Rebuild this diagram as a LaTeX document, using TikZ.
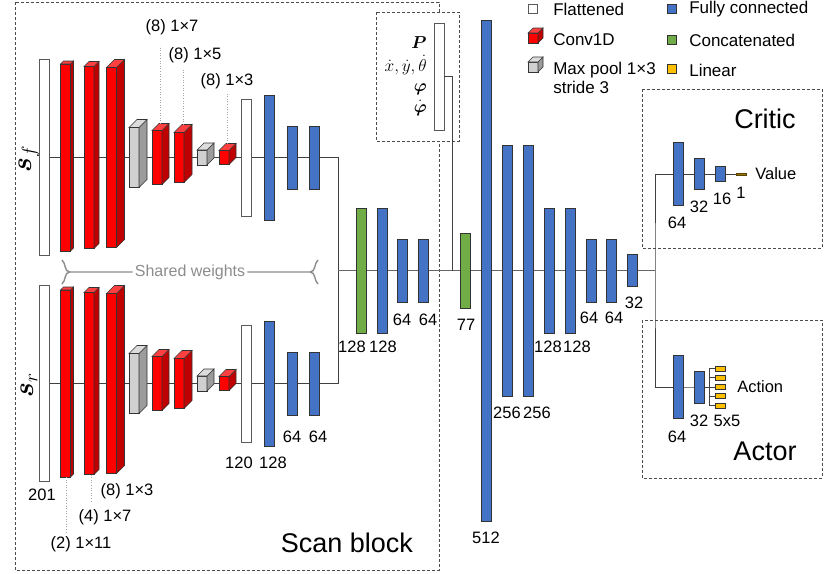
\documentclass[tikz,border=0pt]{standalone}
\usepackage{amsmath}
\usepackage{graphicx}
\usepackage{fontspec}
\setmainfont{Liberation Sans}
\usepackage{tikz}
\usetikzlibrary{backgrounds}

\definecolor{convred}{HTML}{FF0000}
\definecolor{poolgray}{HTML}{D0D0D0}
\definecolor{fcblue}{HTML}{4472C4}
\definecolor{catgreen}{HTML}{70AD47}
\definecolor{linyellow}{HTML}{FFC000}

\tikzset{
  bar/.style={draw=black!80, minimum width=10pt, inner sep=0pt, outer sep=0pt},
  fc/.style={bar, fill=fcblue},
  flat/.style={bar, fill=white, draw=black!65},
  cat/.style={bar, fill=catgreen},
  lin/.style={bar, fill=linyellow},
  num/.style={font=\fontsize{16.5}{18}\selectfont, inner sep=0pt},
  mth/.style={font=\fontsize{16}{18}\selectfont, inner sep=0pt, text height=9pt, text depth=3pt},
  big/.style={font=\fontsize{27}{30}\selectfont, inner sep=0pt},
  legend/.style={font=\fontsize{17}{19}\selectfont, inner sep=0pt, anchor=west, align=left},
  dashbox/.style={draw=black!70, dash pattern=on 3pt off 2pt, line width=.7},
  branch/.style={draw=black!75, line width=.8},
  mainline/.style={draw=black!60, line width=1.3},
  leader/.style={draw=black!35, dotted, line width=.6},
  brace/.style={draw=black!45, line width=1.4},
}

% front face as a node, side and top drawn from its anchors
\newcommand{\cuboid}[6]{%
  \node[bar, fill=#6, minimum height=#4pt] (#1) at (#2,#3) {};
  \filldraw[fill=#6!75!black, draw=black!80] (#1.north east) -- ++(#5,-#5) -- ++(0,#4) -- (#1.south east) -- cycle;
  \filldraw[fill=#6!75!white, draw=black!80] (#1.north west) -- ++(#5,-#5) -- ++(10,0) -- (#1.north east) -- cycle;
}

\begin{document}
\begin{tikzpicture}[x=1pt, y=-1pt, line width=.6]
    \useasboundingbox (0,0) rectangle (830,573);
    \begin{scope}[on background layer]
        \draw[dashbox] (15,2) rectangle (439,570);
        \draw[dashbox] (642,89) rectangle (822,248);
        \draw[dashbox] (642,320) rectangle (822,478);
    \end{scope}
    \draw[dashbox, fill=white] (376,12) rectangle (459,141);

    % scan block, front and rear
    \foreach \br/\yc in {f/157.5, r/383.5} {
        \node[flat, minimum height=196pt] (s\br) at (44,\yc) {};
        \cuboid{ca\br}{65.5}{\yc}{187}{3}{convred}
        \cuboid{cb\br}{89}{\yc}{182}{5}{convred}
        \cuboid{cc\br}{111.5}{\yc}{180}{8}{convred}
        \cuboid{pa\br}{134}{\yc}{60}{8}{poolgray}
        \cuboid{cd\br}{157}{\yc}{54}{7}{convred}
        \cuboid{ce\br}{179}{\yc}{50}{8}{convred}
        \cuboid{pb\br}{202}{\yc}{15}{7}{poolgray}
        \cuboid{cf\br}{224}{\yc}{14}{7}{convred}
        \node[flat, minimum height=117pt] (fl\br) at (246,\yc) {};
        \node[fc, minimum height=125pt] (ha\br) at (269,\yc) {};
        \node[fc, minimum height=63pt] (hb\br) at (292,\yc) {};
        \node[fc, minimum height=63pt] (hc\br) at (314,\yc) {};
    }
    \node[inner sep=0pt, font=\fontsize{20}{22}\selectfont, rotate=90] (tsf) at (29,159) {\scalebox{1.35}{$\boldsymbol{s}_f$}};
    \node[inner sep=0pt, font=\fontsize{20}{22}\selectfont, rotate=90] (tsr) at (29,385) {\scalebox{1.35}{$\boldsymbol{s}_r$}};

    % kernel labels
    \node[num] (k7) at (172,27) {(8) 1×7};
    \node[num] (k5) at (195,55) {(8) 1×5};
    \node[num] (k3) at (227,81) {(8) 1×3};
    \draw[leader] ([xshift=3pt,yshift=7pt]cdf.north) -- ++(0,-78);
    \draw[leader] ([xshift=4pt,yshift=8pt]cef.north) -- ++(0,-55);
    \draw[leader] ([xshift=3.5pt,yshift=7pt]cff.north) -- ++(0,-51);
    \node[num] (kb3) at (127,491) {(8) 1×3};
    \node[num] (kb7) at (105,517) {(4) 1×7};
    \node[num] (kb11) at (81,544) {(2) 1×11};
    \draw[leader] ([xshift=.5pt]car.south) -- ++(0,55);
    \draw[leader] ([xshift=2pt]cbr.south) -- ++(0,27);

    \node[num] (n201) at (42,495) {201};
    \node[num] (n120) at (239,463) {120};
    \node[num] (n128s) at (273,463) {128};
    \node[num] (n64sa) at (292,437) {64};
    \node[num] (n64sb) at (318,437) {64};

    % shared weights
    \node[num, inner xsep=2pt, text=black!45, font=\fontsize{16}{18}\selectfont] (shw) at (190,272) {Shared weights};
    \draw[brace] (62,260) .. controls (66,263) and (64,272) .. (70,272) -- (shw.west);
    \draw[brace] (70,272) .. controls (64,272) and (66,281) .. (62,284);
    \draw[brace] (shw.east) -- (310,272) .. controls (316,272) and (314,263) .. (318,260);
    \draw[brace] (310,272) .. controls (316,272) and (314,281) .. (318,284);

    \node[big] (tscan) at (347,543) {Scan block};

    % robot state
    \node[flat, minimum height=107pt] (pin) at (439,76.5) {};
    \node[mth, anchor=east] (tp) at (427,45) {$\boldsymbol{P}$};
    \node[mth, anchor=east] (tv) at (427,68) {$\dot{x}, \dot{y}, \dot{\theta}$};
    \node[mth, anchor=east] (tphi) at (427,88) {$\boldsymbol{\varphi}$};
    \node[mth, anchor=east] (tdphi) at (427,109) {$\dot{\boldsymbol{\varphi}}$};
    \coordinate (pjoin) at (452,270.5);
    \draw[branch] (pin.east) -| (pjoin);

    % shared trunk
    \node[cat, minimum height=125pt] (m128) at (361,270.5) {};
    \node[fc, minimum height=125pt] (f128) at (382,270.5) {};
    \node[fc, minimum height=63pt] (f64a) at (402.5,270.5) {};
    \node[fc, minimum height=63pt] (f64b) at (423,270.5) {};
    \node[cat, minimum height=75pt] (m77) at (465.5,270.5) {};
    \node[fc, minimum height=501pt] (f512) at (486.5,270.5) {};
    \node[fc, minimum height=251pt] (f256a) at (507,270.5) {};
    \node[fc, minimum height=251pt] (f256b) at (528,270.5) {};
    \node[fc, minimum height=125pt] (f128a) at (549,270.5) {};
    \node[fc, minimum height=125pt] (f128b) at (570,270.5) {};
    \node[fc, minimum height=63pt] (f64c) at (591,270.5) {};
    \node[fc, minimum height=63pt] (f64d) at (611,270.5) {};
    \node[fc, minimum height=32pt] (f32) at (632,270.5) {};

    \node[num] (n128a) at (352,347) {128};
    \node[num] (n128b) at (383,347) {128};
    \node[num] (n64a) at (402,320) {64};
    \node[num] (n64b) at (428,320) {64};
    \node[num] (n77) at (466,325) {77};
    \node[num] (n512) at (486,538) {512};
    \node[num] (n256a) at (507,413) {256};
    \node[num] (n256b) at (537,413) {256};
    \node[num] (n128c) at (548,347) {128};
    \node[num] (n128d) at (577,347) {128};
    \node[num] (n64c) at (589,318) {64};
    \node[num] (n64d) at (614,318) {64};
    \node[num] (n32) at (634,303) {32};

    % critic
    \node[big] (tcritic) at (765,119) {Critic};
    \node[fc, minimum height=63pt] (cr64) at (678,174) {};
    \node[fc, minimum height=31pt] (cr32) at (699,174) {};
    \node[fc, minimum height=15pt] (cr16) at (720,174) {};
    \node[lin, minimum height=2pt, fill=linyellow!60!black, draw=linyellow!35!black] (crout) at (741,174) {};
    \node[num, anchor=west] (tval) at (755,174) {Value};
    \node[num] (nc64) at (677,223) {64};
    \node[num] (nc32) at (699,207) {32};
    \node[num] (nc16) at (722,199) {16};
    \node[num] (nc1) at (741,193) {1};

    % actor
    \node[big] (tactor) at (765,451) {Actor};
    \node[fc, minimum height=63pt] (ac64) at (678,387) {};
    \node[fc, minimum height=32pt] (ac32) at (699,387) {};
    \foreach \i in {1,...,5}
        \node[lin, minimum height=5pt] (act\i) at (720,{387+(\i-3)*9.2}) {};
    \node[num, anchor=west] (tact) at (737,387) {Action};
    \node[num] (na64) at (677,437) {64};
    \node[num] (na32) at (699,421) {32};
    \node[num] (na55) at (727,421) {5x5};

    % legend
    \node[flat, minimum width=9pt, minimum height=9pt] (lgflat) at (533,8.5) {};
    \node[legend] (tflat) at (553,9.5) {Flattened};
    \cuboid{lgconv}{533}{38}{10}{5}{convred}
    \node[legend] (tconv) at (553,39.5) {Conv1D};
    \cuboid{lgpool}{533}{67}{10}{5}{poolgray}
    \node[legend] (tpool) at (553,78) {Max pool 1×3\\stride 3};
    \node[fc, minimum width=9pt, minimum height=9pt] (lgfc) at (671.5,9) {};
    \node[legend] (tfc) at (689,9.5) {Fully connected};
    \node[cat, minimum width=9pt, minimum height=9pt] (lgcat) at (671.5,40) {};
    \node[legend] (tcat) at (689,40) {Concatenated};
    \node[lin, minimum width=9pt, minimum height=9pt] (lglin) at (671.5,69) {};
    \node[legend] (tlin) at (689,70) {Linear};

    % connectors
    \coordinate (jn) at (338,270.5);
    \coordinate (split) at (655,270.5);
    \coordinate (fork) at (709.5,387);
    \begin{scope}[on background layer]
        \foreach \br in {f,r}
            \draw[branch] (s\br.east) -- (hc\br.center) -| (jn);
        \draw[mainline] (jn) -- (split);
        \draw[branch] (cr64.center) -| (split) |- (ac64.center);
        \draw[branch] (cr64.center) -- (crout.center);
        \draw[branch] (ac64.center) -- (ac32.center) -- (fork);
        \foreach \i in {1,...,5}
            \draw[branch] (fork) |- (act\i.west);
    \end{scope}
\end{tikzpicture}
\end{document}
